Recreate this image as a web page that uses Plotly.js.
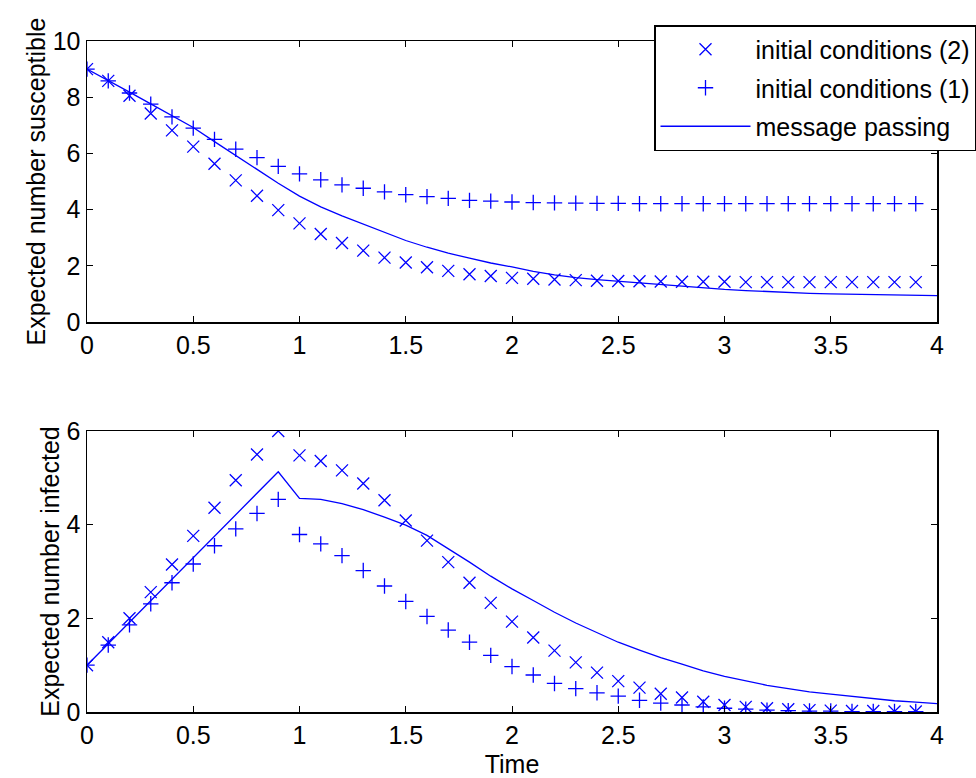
<!DOCTYPE html>
<html>
<head>
<meta charset="utf-8">
<script src="https://cdn.plot.ly/plotly-3.0.1.min.js"></script>
<style>html,body{margin:0;padding:0;background:#fff;}#chart{width:976px;height:778px;}</style>
</head>
<body>
<div id="chart"></div>
<script>
// Time samples for markers (0 .. 3.9) and line (0 .. 4.0)
const tMarkers = [0,0.1,0.2,0.3,0.4,0.5,0.6,0.7,0.8,0.9,1.0,1.1,1.2,1.3,1.4,1.5,1.6,1.7,1.8,1.9,2.0,2.1,2.2,2.3,2.4,2.5,2.6,2.7,2.8,2.9,3.0,3.1,3.2,3.3,3.4,3.5,3.6,3.7,3.8,3.9];
const tLine = [0,0.1,0.2,0.3,0.4,0.5,0.6,0.7,0.8,0.9,1.0,1.1,1.2,1.3,1.4,1.5,1.6,1.7,1.8,1.9,2.0,2.1,2.2,2.3,2.4,2.5,2.6,2.7,2.8,2.9,3.0,3.1,3.2,3.3,3.4,3.5,3.6,3.7,3.8,3.9,4.0];

// Susceptible (top panel)
const susIC2 = [9.0,8.58,8.05,7.42,6.82,6.24,5.63,5.04,4.49,3.98,3.51,3.13,2.81,2.54,2.29,2.12,1.95,1.82,1.70,1.64,1.57,1.54,1.51,1.49,1.47,1.46,1.45,1.44,1.43,1.43,1.43,1.42,1.42,1.42,1.42,1.42,1.42,1.42,1.42,1.42];
const susIC1 = [9.0,8.58,8.15,7.75,7.30,6.90,6.50,6.15,5.85,5.54,5.27,5.06,4.88,4.76,4.63,4.53,4.46,4.40,4.33,4.30,4.27,4.25,4.24,4.23,4.22,4.22,4.21,4.21,4.21,4.21,4.21,4.21,4.21,4.21,4.21,4.21,4.21,4.21,4.21,4.21];
const susMP = [9.0,8.6,8.18,7.76,7.34,6.92,6.42,5.92,5.42,4.94,4.48,4.1,3.78,3.48,3.18,2.9,2.66,2.45,2.27,2.1,1.96,1.8,1.68,1.58,1.51,1.45,1.39,1.33,1.27,1.22,1.16,1.12,1.08,1.05,1.02,1.0,0.99,0.97,0.96,0.95,0.94];

// Infected (bottom panel)
const infIC2 = [1.0,1.49,2.0,2.56,3.15,3.76,4.36,4.95,5.5,6.0,5.48,5.36,5.16,4.88,4.52,4.09,3.66,3.2,2.76,2.33,1.93,1.59,1.31,1.06,0.84,0.66,0.52,0.39,0.31,0.22,0.15,0.11,0.08,0.06,0.04,0.03,0.02,0.02,0.01,0.01];
const infIC1 = [1.0,1.43,1.86,2.31,2.76,3.16,3.55,3.91,4.24,4.54,3.79,3.59,3.34,3.02,2.69,2.36,2.04,1.75,1.49,1.21,0.97,0.79,0.61,0.5,0.41,0.34,0.25,0.19,0.15,0.11,0.08,0.06,0.04,0.03,0.02,0.02,0.01,0.01,0.01,0.01];
const infMP = [1.0,1.46,1.92,2.38,2.84,3.29,3.75,4.21,4.67,5.13,4.56,4.54,4.45,4.32,4.16,3.99,3.77,3.49,3.2,2.9,2.63,2.38,2.13,1.9,1.69,1.49,1.32,1.16,1.02,0.88,0.76,0.66,0.57,0.5,0.43,0.38,0.33,0.28,0.24,0.21,0.18];

const legendNames = ['initial conditions (2)', 'initial conditions (1)', 'message passing'];
const xTicks = [0,0.5,1,1.5,2,2.5,3,3.5,4];
const xTickText = ['0','0.5','1','1.5','2','2.5','3','3.5','4'];

const blue = '#0000ff';
const mk = (sym, s) => ({symbol: sym, size: s, color: blue, line: {color: blue, width: 1.3}});

const data = [
  {x: tMarkers, y: susIC2, name: legendNames[0], legendgroup: 'a', mode: 'markers', type: 'scatter', marker: mk('x-thin-open', 12), xaxis: 'x', yaxis: 'y'},
  {x: tMarkers, y: susIC1, name: legendNames[1], legendgroup: 'b', mode: 'markers', type: 'scatter', marker: mk('cross-thin-open', 11), xaxis: 'x', yaxis: 'y'},
  {x: tLine, y: susMP, name: legendNames[2], legendgroup: 'c', mode: 'lines', type: 'scatter', line: {color: blue, width: 1.3}, xaxis: 'x', yaxis: 'y'},
  {x: tMarkers, y: infIC2, name: legendNames[0], mode: 'markers', type: 'scatter', marker: mk('x-thin-open', 12), xaxis: 'x2', yaxis: 'y2', showlegend: false},
  {x: tMarkers, y: infIC1, name: legendNames[1], mode: 'markers', type: 'scatter', marker: mk('cross-thin-open', 11), xaxis: 'x2', yaxis: 'y2', showlegend: false},
  {x: tLine, y: infMP, name: legendNames[2], mode: 'lines', type: 'scatter', line: {color: blue, width: 1.3}, xaxis: 'x2', yaxis: 'y2', showlegend: false}
];

const font = {family: 'Liberation Sans, Arial, sans-serif', size: 25, color: '#000'};
const axisCommon = {
  showline: true, linecolor: '#000', linewidth: 1.5, mirror: 'allticks',
  ticks: 'inside', ticklen: 6, tickcolor: '#000', tickwidth: 1,
  showgrid: false, zeroline: false, tickfont: font
};

const xDom = [87/976, 937/976];
const layout = {
  width: 976, height: 778,
  margin: {l: 0, r: 0, t: 0, b: 0},
  paper_bgcolor: '#fff', plot_bgcolor: '#fff',
  font: font,
  showlegend: true,
  legend: {
    x: 1.0, xanchor: 'right', y: 1 - 25/778, yanchor: 'top',
    bordercolor: '#000', borderwidth: 1.5, bgcolor: '#fff',
    font: {family: font.family, size: 25, color: '#000'},
    traceorder: 'grouped', tracegroupgap: 3, itemwidth: 90
  },
  xaxis: Object.assign({}, axisCommon, {domain: xDom, range: [0, 4], tickvals: xTicks, ticktext: xTickText, anchor: 'y'}),
  yaxis: Object.assign({}, axisCommon, {domain: [1 - 322/778, 1 - 41/778], range: [0, 10], tickvals: [0,2,4,6,8,10], anchor: 'x',
    title: {text: 'Expected number susceptible', font: font, standoff: 0}}),
  xaxis2: Object.assign({}, axisCommon, {domain: xDom, range: [0, 4], tickvals: xTicks, ticktext: xTickText, anchor: 'y2',
    title: {text: 'Time', font: font, standoff: 8}}),
  yaxis2: Object.assign({}, axisCommon, {domain: [1 - 712/778, 1 - 431/778], range: [0, 6], tickvals: [0,2,4,6], anchor: 'x2',
    title: {text: 'Expected number infected', font: font, standoff: 0}})
};

Plotly.newPlot('chart', data, layout, {displayModeBar: false, staticPlot: true});
</script>
</body>
</html>
